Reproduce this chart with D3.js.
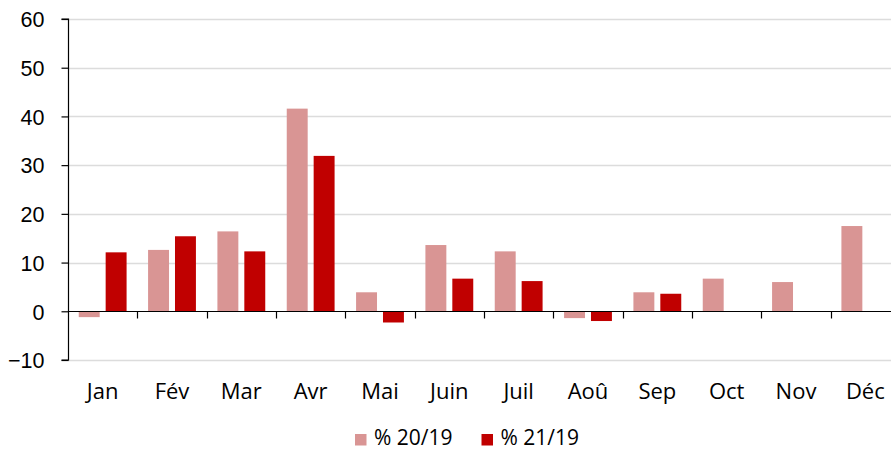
<!DOCTYPE html>
<html>
<head>
<meta charset="utf-8">
<script src="https://cdn.jsdelivr.net/npm/d3@7"></script>
<style>
  body { margin: 0; background: #fff; }
  svg { display: block; }
</style>
</head>
<body>
<svg id="chart" width="891" height="451"></svg>
<script>
// mois et séries (en %)
var months = ["Jan", "Fév", "Mar", "Avr", "Mai", "Juin", "Juil", "Aoû", "Sep", "Oct", "Nov", "Déc"];
var keys = ["% 20/19", "% 21/19"];
var v2019 = [-1.2, 12.6, 16.4, 41.6, 3.9, 13.6, 12.3, -1.4, 3.9, 6.7, 6.0, 17.5];
var v2119 = [12.1, 15.4, 12.3, 31.9, -2.3, 6.7, 6.2, -2.0, 3.6, null, null, null];
var yTicks = [-10, 0, 10, 20, 30, 40, 50, 60];

var colors = ["#d99594", "#c00000"];

var data = months.map(function(m, i) {
  return {month: m, values: [v2019[i], v2119[i]]};
});

(function draw() {
  var svg = d3.select("#chart"),
      left = 68, right = 900, top = 19, bottom = 360;

  var x0 = d3.scaleBand().domain(months).range([left, right]).paddingInner(0).paddingOuter(0);
  var bw = x0.bandwidth();
  var x1 = d3.scaleBand().domain(keys).range([bw * 0.155, bw * 0.845]).paddingInner(0.222).paddingOuter(0);
  var y = d3.scaleLinear().domain([-10, 60]).range([bottom, top]);
  var z = d3.scaleOrdinal().domain(keys).range(colors);

  // grille
  svg.append("g")
    .selectAll("line")
    .data(yTicks.filter(function(t) { return t !== 0; }))
    .enter().append("line")
      .attr("x1", left).attr("x2", 891)
      .attr("y1", function(d) { return Math.round(y(d)) + 0.5; })
      .attr("y2", function(d) { return Math.round(y(d)) + 0.5; })
      .attr("stroke", "#dcdcdc")
      .attr("stroke-width", 1.3);

  // barres
  svg.append("g")
    .selectAll("g")
    .data(data)
    .enter().append("g")
      .attr("transform", function(d) { return "translate(" + x0(d.month) + ",0)"; })
    .selectAll("rect")
    .data(function(d) {
      return keys.map(function(k, i) { return {key: k, value: d.values[i]}; })
                 .filter(function(e) { return e.value !== null; });
    })
    .enter().append("rect")
      .attr("x", function(d) { return x1(d.key); })
      .attr("y", function(d) { return y(Math.max(0, d.value)); })
      .attr("width", x1.bandwidth())
      .attr("height", function(d) { return Math.abs(y(d.value) - y(0)); })
      .attr("fill", function(d) { return z(d.key); });

  // ligne du zéro + graduations
  var y0 = Math.round(y(0)) + 0.5;
  svg.append("line")
    .attr("x1", left).attr("x2", 891)
    .attr("y1", y0).attr("y2", y0)
    .attr("stroke", "#000").attr("stroke-width", 1.2);

  svg.append("g")
    .selectAll("line")
    .data(months.slice(1))
    .enter().append("line")
      .attr("x1", function(d) { return Math.round(x0(d)) + 0.5; })
      .attr("x2", function(d) { return Math.round(x0(d)) + 0.5; })
      .attr("y1", y0).attr("y2", y0 + 7)
      .attr("stroke", "#000").attr("stroke-width", 1.2);

  // axe vertical
  var yAxis = svg.append("g")
    .attr("transform", "translate(" + (left + 0.5) + ",0)")
    .call(d3.axisLeft(y).tickValues(yTicks).tickSize(7).tickPadding(17).tickFormat(d3.format("d")));
  yAxis.select(".domain").attr("stroke", "#000").attr("stroke-width", 1.2)
    .attr("d", "M-7," + y(60) + "H0V" + y(-10) + "H-7");
  yAxis.selectAll(".tick line").attr("stroke", "#000").attr("stroke-width", 1.2);
  yAxis.selectAll(".tick text")
    .attr("fill", "#000")
    .attr("dy", "0.36em")
    .style("font-family", "'Liberation Sans', Arial, sans-serif")
    .style("font-size", "21.5px");

  // libellés des mois
  var xAxis = svg.append("g")
    .attr("transform", "translate(0," + bottom + ")")
    .call(d3.axisBottom(x0).tickSize(0).tickPadding(23.4));
  xAxis.select(".domain").remove();
  xAxis.selectAll(".tick text")
    .attr("fill", "#000")
    .style("font-family", "'Open Sans', sans-serif")
    .style("font-size", "22px");

  // légende
  var legend = svg.append("g").attr("transform", "translate(355,445)");
  var item = legend.selectAll("g")
    .data(keys)
    .enter().append("g")
      .attr("transform", function(d, i) { return "translate(" + (i * 126.5) + ",0)"; });
  item.append("rect")
    .attr("x", 0).attr("y", -11).attr("width", 11.5).attr("height", 11.5)
    .attr("fill", function(d) { return z(d); });
  item.append("text")
    .attr("x", 19).attr("y", 0)
    .style("font-family", "'Open Sans', sans-serif")
    .style("font-size", "21px")
    .attr("fill", "#000")
    .text(function(d) { return d; });
})();
</script>
</body>
</html>
